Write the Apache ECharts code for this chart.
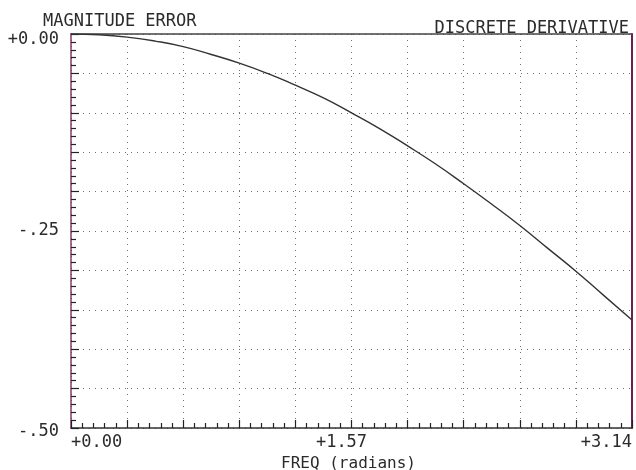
<!DOCTYPE html>
<html>
<head>
<meta charset="utf-8">
<style>
  html, body { margin: 0; padding: 0; background: #ffffff; }
  #chart { width: 636px; height: 470px; }
</style>
<script src="https://cdn.jsdelivr.net/npm/echarts@6/dist/echarts.min.js"></script>
</head>
<body>
<div id="chart"></div>
<script>
// Magnitude error of the discrete derivative vs. frequency (0 .. pi)
const freq = [0.0000, 0.1571, 0.3142, 0.4712, 0.6283, 0.7854, 0.9425, 1.0996, 1.2566, 1.4137,
              1.5708, 1.7279, 1.8850, 2.0420, 2.1991, 2.3562, 2.5133, 2.6704, 2.8274, 2.9845, 3.1416];
const magErr = [0.000, -0.001, -0.004, -0.009, -0.016, -0.026, -0.037, -0.050, -0.065, -0.081,
                -0.100, -0.120, -0.142, -0.165, -0.190, -0.216, -0.243, -0.272, -0.301, -0.332, -0.363];
const xTickLabels = ['+0.00', '+1.57', '+3.14'];
const yTickLabels = ['+0.00', '-.25', '-.50'];

const FONT = '"DejaVu Sans Mono", "Liberation Mono", monospace';
const INK = '#2b2b2b';
const xStep = Math.PI / 10;
const yStep = 0.05;

const chart = echarts.init(document.getElementById('chart'), null, { renderer: 'canvas' });

const gridDots = { show: true, lineStyle: { color: '#707070', width: 1, type: [1, 5] } };

chart.setOption({
  backgroundColor: '#ffffff',
  animation: false,
  title: [
    { text: 'MAGNITUDE ERROR', left: 38, top: 7,
      textStyle: { fontFamily: FONT, fontSize: 17, fontWeight: 'normal', color: INK, lineHeight: 20 } },
    { text: 'DISCRETE DERIVATIVE', right: 2, top: 14,
      textStyle: { fontFamily: FONT, fontSize: 17, fontWeight: 'normal', color: INK, lineHeight: 20 } }
  ],
  grid: {
    left: 71, right: 4, top: 34, bottom: 42,
    outerBoundsMode: 'none', containLabel: false,
    show: false
  },
  xAxis: [
    {
      type: 'value', min: 0, max: Math.PI, interval: xStep, position: 'bottom',
      name: 'FREQ (radians)', nameLocation: 'middle', nameGap: 26,
      nameTextStyle: { fontFamily: FONT, fontSize: 16, color: INK, padding: [0, 6, 0, 0] },
      axisLine: { show: true, onZero: false, lineStyle: { color: '#333333', width: 1.5 } },
      axisTick: { show: true, inside: true, length: 8, lineStyle: { color: '#222222', width: 1.2 } },
      minorTick: { show: true, splitNumber: 5, length: 5, lineStyle: { color: '#222222', width: 1.2 } },
      splitLine: gridDots,
      axisLabel: {
        margin: 6, fontFamily: FONT, fontSize: 17, color: INK,
        alignMinLabel: 'left', alignMaxLabel: 'right',
        formatter: function (v) {
          const i = Math.round(v / xStep);
          if (i % 5 !== 0) return '';
          const t = xTickLabels[i / 5];
          return i === 5 ? '{mid|' + t + '}' : t;
        },
        rich: { mid: { fontFamily: FONT, fontSize: 17, color: INK, padding: [0, 20, 0, 0] } }
      }
    },
    {
      // top frame edge
      type: 'value', min: 0, max: Math.PI, position: 'top',
      axisLine: { show: true, onZero: false, lineStyle: { color: '#444444', width: 1.5 } },
      axisTick: { show: false }, minorTick: { show: false },
      axisLabel: { show: false }, splitLine: { show: false }
    }
  ],
  yAxis: [
    {
      type: 'value', min: -0.5, max: 0, interval: yStep, position: 'left',
      axisLine: { show: true, onZero: false, lineStyle: { color: '#8a3a6a', width: 1.5 } },
      axisTick: { show: true, inside: true, length: 8, lineStyle: { color: '#222222', width: 1.2 } },
      minorTick: { show: true, splitNumber: 5, length: 5, lineStyle: { color: '#222222', width: 1.2 } },
      splitLine: gridDots,
      axisLabel: {
        margin: 12, fontFamily: FONT, fontSize: 17, color: INK,
        formatter: function (v) {
          const i = Math.round(-v / yStep);
          if (i % 5 !== 0) return '';
          const t = yTickLabels[i / 5];
          if (i === 0) return '{top|' + t + '}';
          if (i === 10) return '{bot|' + t + '}';
          return t;
        },
        rich: {
          top: { fontFamily: FONT, fontSize: 17, color: INK, padding: [12, 0, 0, 0] },
          bot: { fontFamily: FONT, fontSize: 17, color: INK, padding: [8, 0, 0, 0] }
        }
      }
    },
    {
      // right frame edge
      type: 'value', position: 'right', min: -0.5, max: 0,
      axisLine: { show: true, onZero: false, lineStyle: { color: '#6a2050', width: 2 } },
      axisTick: { show: false }, minorTick: { show: false },
      axisLabel: { show: false }, splitLine: { show: false }
    }
  ],
  series: [
    {
      type: 'line',
      data: freq.map((f, i) => [f, magErr[i]]),
      showSymbol: false,
      smooth: true,
      lineStyle: { color: '#333333', width: 1.4 },
      z: 5
    }
  ]
});
</script>
</body>
</html>
